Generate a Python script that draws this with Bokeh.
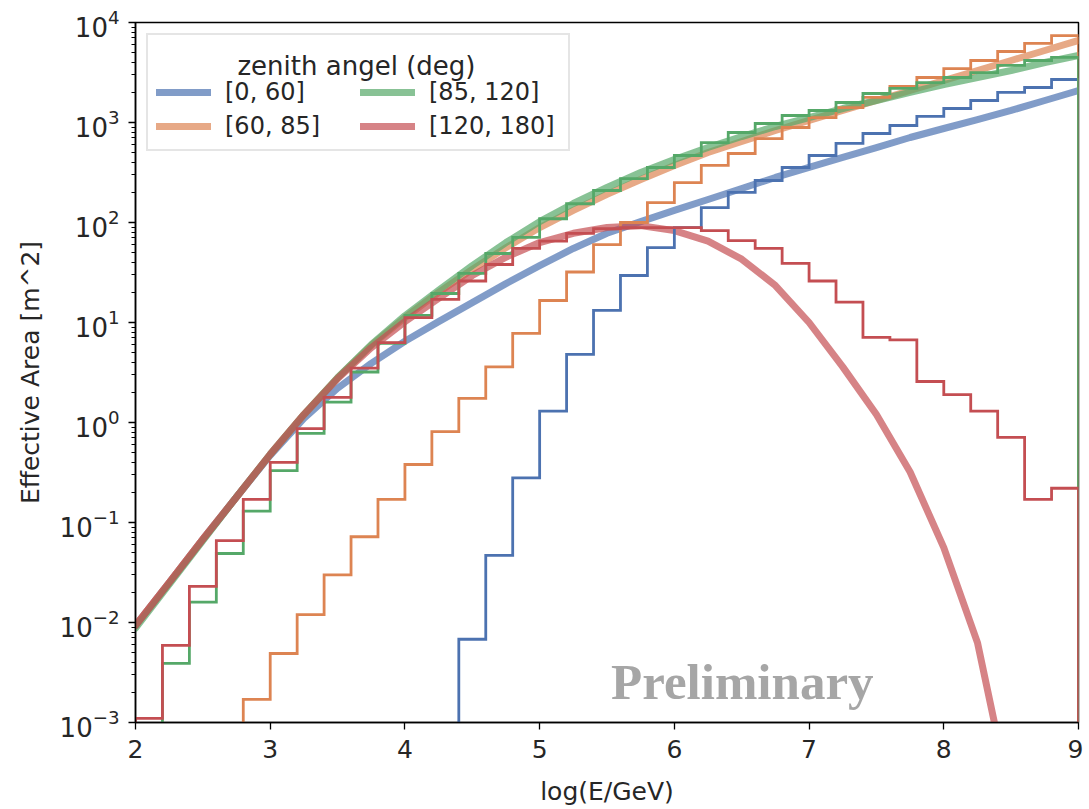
from bokeh.plotting import figure
from bokeh.models import Legend, LegendItem, Label, FixedTicker
from bokeh.embed import file_html
from bokeh.resources import INLINE

# ---------------- data ----------------
bin_edges = [round(2.0 + 0.2 * i, 1) for i in range(36)]

# effective area per bin (None = empty bin)
hist_0_60 = [None] * 12 + [0.0068, 0.047, 0.28, 1.3, 4.8, 13.2, 29.5, 56, 89, 141, 200, 263,
                           355, 468, 617, 776, 933, 1150, 1380, 1660, 2000, 2240, 2690]
hist_60_85 = [None] * 4 + [0.0017, 0.0049, 0.012, 0.030, 0.072, 0.17, 0.38, 0.81, 1.74, 3.6,
                           7.8, 16.6, 32, 60, 100, 158, 251, 372, 490, 690, 891, 1120, 1410,
                           1780, 2290, 2820, 3450, 4170, 5130, 6170, 7400]
hist_85_120 = [None] + [0.0039, 0.016, 0.049, 0.13, 0.33, 0.78, 1.6, 3.2, 6.2, 11.8, 19.5, 31,
                        49, 71, 109, 154, 209, 275, 355, 468, 630, 794, 977, 1175, 1318, 1585,
                        1950, 2190, 2510, 2820, 3160, 3720, 4170, 4470]
hist_120_180 = [0.0011, 0.0059, 0.023, 0.066, 0.17, 0.40, 0.87, 1.78, 3.5, 6.3, 11.2, 17, 26,
                38, 55, 65, 78, 87, 89, 89, 89, 83, 66, 55, 39, 26, 16, 7.1, 6.7, 2.57, 1.9,
                1.3, 0.71, 0.17, 0.22]

# smooth fitted curves
curve_x = [2.0, 2.25, 2.5, 2.75, 3.0, 3.25, 3.5, 3.75, 4.0, 4.25, 4.5, 4.75, 5.0, 5.25, 5.5,
           5.75, 6.0, 6.25, 6.5, 6.75, 7.0, 7.25, 7.5, 7.75, 8.0, 8.25, 8.5, 8.75, 9.0]
fit_0_60 = [0.0093, 0.025, 0.068, 0.18, 0.47, 1.1, 2.2, 3.9, 6.5, 10.2, 15.8, 24.5, 37, 55, 78,
            102, 132, 170, 219, 282, 355, 447, 562, 708, 871, 1070, 1320, 1660, 2090]
fit_60_85 = [0.0093, 0.025, 0.068, 0.18, 0.48, 1.2, 2.8, 5.9, 11.2, 20, 34, 56, 89, 132, 191,
             269, 372, 501, 646, 832, 1050, 1320, 1660, 2090, 2630, 3310, 4170, 5250, 6610]
fit_85_120 = [0.0088, 0.024, 0.066, 0.18, 0.48, 1.2, 2.8, 6.0, 11.7, 21, 37, 63, 102, 155, 224,
              316, 427, 562, 724, 912, 1120, 1380, 1660, 2000, 2400, 2820, 3310, 3980, 4680]
fit_120_180_x = [2.0, 2.25, 2.5, 2.75, 3.0, 3.25, 3.5, 3.75, 4.0, 4.25, 4.5, 4.75, 5.0, 5.25,
                 5.5, 5.75, 6.0, 6.25, 6.5, 6.75, 7.0, 7.25, 7.5, 7.75, 8.0, 8.25, 8.4]
fit_120_180 = [0.0093, 0.025, 0.068, 0.18, 0.48, 1.2, 2.75, 5.6, 10.2, 17.4, 29.5, 45, 63, 78,
               89, 93, 83, 65, 43, 23.4, 10, 3.6, 1.2, 0.32, 0.056, 0.0063, 0.0007]

labels = ["[0, 60]", "[60, 85]", "[85, 120]", "[120, 180]"]
legend_title = "zenith angel (deg)"
colors = ["#4C72B0", "#DD8452", "#55A868", "#C44E52"]

Y_MIN, Y_MAX = 1e-3, 1e4
FONT = "DejaVu Sans"
TXT = "#262626"

p = figure(width=1083, height=808, x_range=(2, 9), y_range=(Y_MIN, Y_MAX),
           y_axis_type="log", output_backend="svg", toolbar_location=None,
           min_border_left=135, min_border_right=5, min_border_top=22,
           min_border_bottom=86, background_fill_color="white",
           border_fill_color="white")
p.xgrid.visible = False
p.ygrid.visible = False
p.outline_line_color = "black"
p.outline_line_width = 1.5
p.outline_line_alpha = 1.0


def step_outline(values):
    floor = Y_MIN / 100.0
    xs, ys = [], []
    for i, v in enumerate(values):
        val = floor if v is None else v
        xs += [bin_edges[i], bin_edges[i + 1]]
        ys += [val, val]
    xs = [bin_edges[0]] + xs + [bin_edges[-1]]
    ys = [floor] + ys + [floor]
    return xs, ys


fits = [(curve_x, fit_0_60), (curve_x, fit_60_85), (curve_x, fit_85_120),
        (fit_120_180_x, fit_120_180)]
hists = [hist_0_60, hist_60_85, hist_85_120, hist_120_180]

fit_renderers = []
for (fx, fy), c in zip(fits, colors):
    r = p.line(fx, fy, line_color=c, line_width=7, line_alpha=0.7, line_cap="round",
               line_join="round")
    fit_renderers.append(r)

for h, c in zip(hists, colors):
    xs, ys = step_outline(h)
    p.line(xs, ys, line_color=c, line_width=2.8, line_join="miter")

# axes
for ax in (p.xaxis[0], p.yaxis[0]):
    ax.axis_line_color = "black"
    ax.axis_line_width = 1.5
    ax.major_tick_line_color = "black"
    ax.major_tick_line_width = 1.3
    ax.minor_tick_line_color = "black"
    ax.minor_tick_line_width = 1.0
    ax.major_tick_in = 0
    ax.major_tick_out = 7
    ax.minor_tick_in = 0
    ax.minor_tick_out = 4
    ax.major_label_text_font = FONT
    ax.major_label_text_font_size = "25px"
    ax.major_label_text_color = TXT
    ax.axis_label_text_font = FONT
    ax.axis_label_text_font_size = "25px"
    ax.axis_label_text_font_style = "normal"
    ax.axis_label_text_color = TXT

p.xaxis.ticker = FixedTicker(ticks=[2, 3, 4, 5, 6, 7, 8, 9])
p.xaxis.minor_tick_out = 0
p.xaxis.major_label_standoff = 10
p.xaxis.axis_label = "log(E/GeV)"
p.xaxis.axis_label_standoff = 16
p.yaxis.major_label_text_font_size = "26px"
p.yaxis.major_label_standoff = 9
p.yaxis.axis_label = "Effective Area [m^2]"
p.yaxis.axis_label_standoff = 12

items = [LegendItem(label=l, renderers=[r]) for l, r in zip(labels, fit_renderers)]
legend = Legend(items=items, location="top_left", ncols=2, title="\u00a0",
                label_text_font=FONT, label_text_font_size="24px", label_text_color=TXT,
                title_text_font=FONT, title_text_font_size="26px", title_text_color=TXT,
                title_text_font_style="normal", title_standoff=4,
                glyph_width=55, glyph_height=30, label_width=131,
                label_standoff=14, spacing=4, padding=8, margin=11,
                border_line_color="#cccccc", border_line_width=2,
                background_fill_alpha=0.0)
p.add_layout(legend)

title_label = Label(x=3.64, y=3715, text=legend_title, text_font=FONT,
                    text_font_size="26px", text_color=TXT, text_align="center",
                    text_baseline="middle")
p.add_layout(title_label)

prelim = Label(x=5.53, y=0.00257, text="Preliminary", text_font="Liberation Serif",
               text_font_style="bold", text_font_size="51px", text_color="#a6a6a6",
               text_baseline="alphabetic")
p.add_layout(prelim)

open("out.html", "w").write(file_html(p, INLINE))
